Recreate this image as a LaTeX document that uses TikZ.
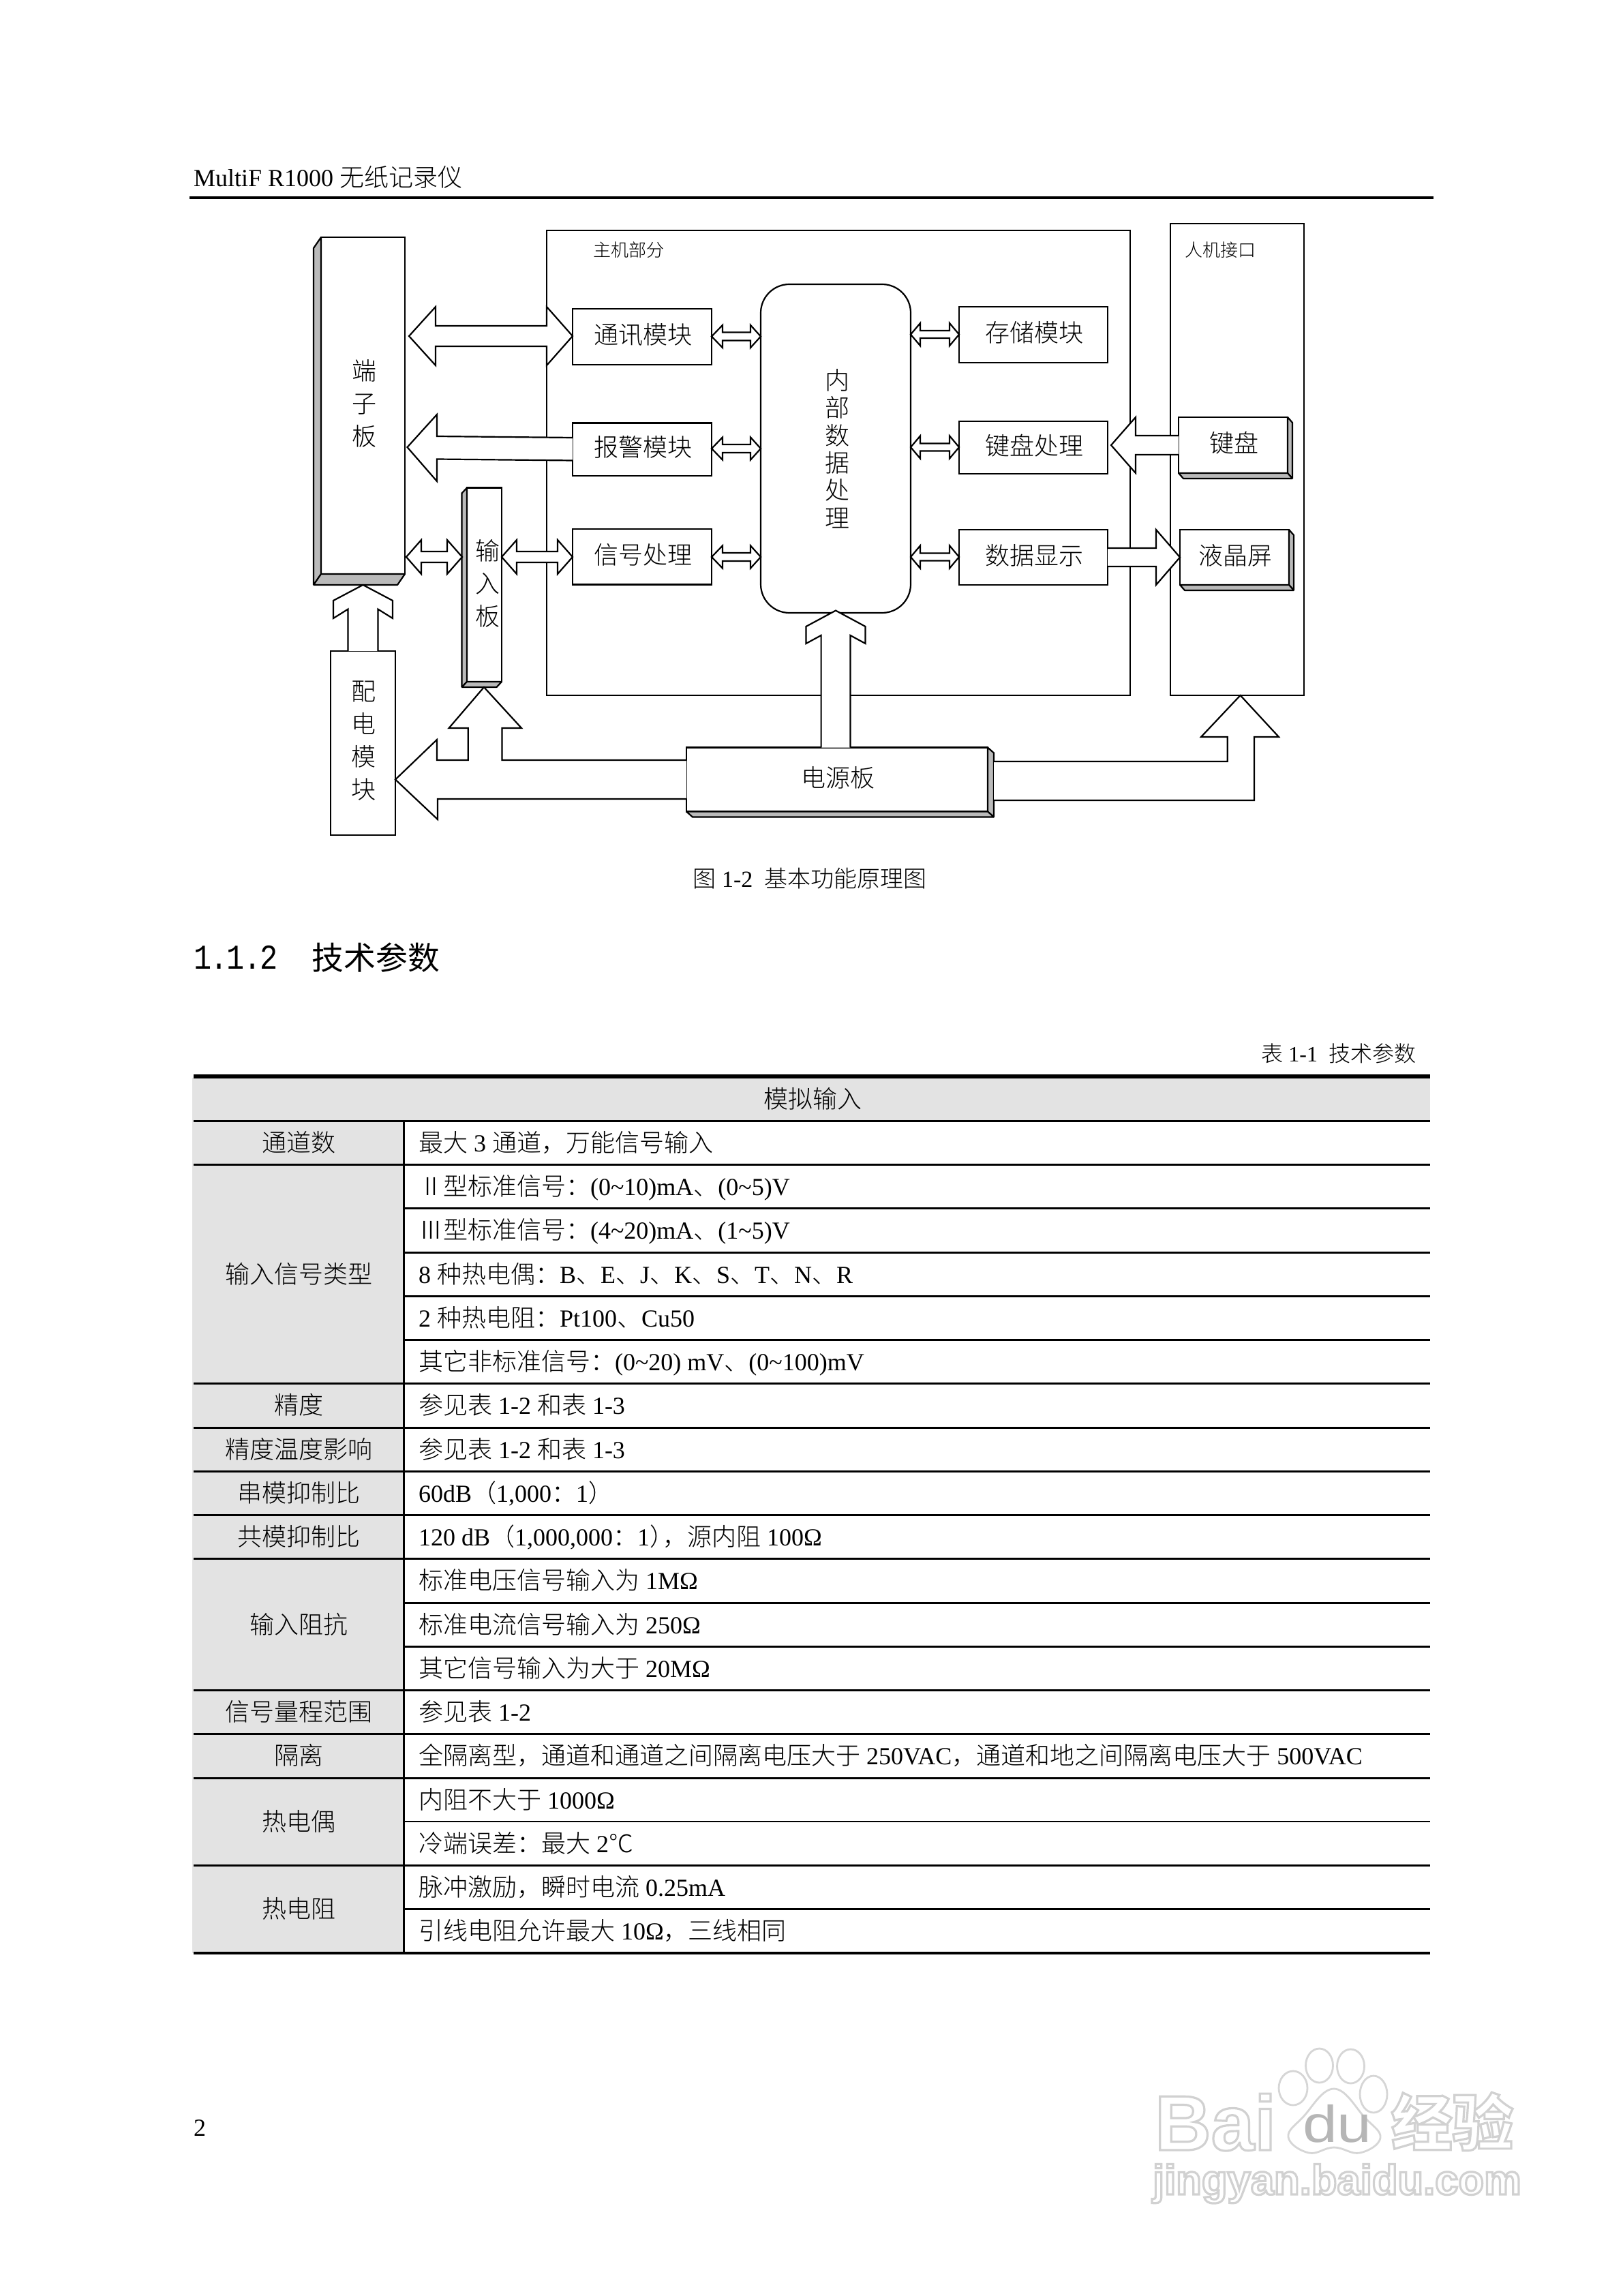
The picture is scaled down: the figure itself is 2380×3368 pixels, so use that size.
\documentclass[tikz,border=0pt]{standalone}
\usepackage{fontspec}
\usetikzlibrary{calc}
\setmainfont{Liberation Serif}
\newfontfamily\cjk{Noto Sans CJK SC Light}
\newfontfamily\cjkh{Noto Sans CJK SC}
\newfontfamily\sanslat{Liberation Sans}
\newfontfamily\wmdufont[FakeStretch=1.2]{Liberation Sans}
\newfontfamily\hdmono[FakeStretch=0.85,LetterSpace=-4]{Liberation Mono}
\newcommand{\C}[1]{{\cjk #1}}
\def\pxu{0.25pt}
\definecolor{cellgray}{HTML}{E3E3E3}
\definecolor{wmgray}{HTML}{D6D6D6}
\tikzset{
  ln/.style={line width=0.55pt,line join=miter},
  mod/.style={draw=black,fill=white,line width=0.55pt,inner sep=0pt,outer sep=0pt,align=center,font=\cjk\fontsize{9}{12}\selectfont},
  modtext/.style={inner sep=0pt,outer sep=0pt,align=center,font=\cjk\fontsize{9}{12}\selectfont},
  blockarrow/.style={draw=black,fill=white,line width=0.55pt,line join=miter},
  bevel/.style={draw=black,fill=black!27,line width=0.55pt,line join=bevel},
  cell/.style={inner sep=0pt,outer sep=0pt,font=\fontsize{9}{12}\selectfont},
  smalllab/.style={inner sep=0pt,font=\cjk\fontsize{6.5}{8}\selectfont},
  capt/.style={inner sep=0pt,font=\fontsize{8.5}{10}\selectfont},
  trule/.style={line width=0.75pt,draw=black},
  thinrule/.style={line width=0.5pt,draw=black},
  wmshape/.style={draw=wmgray,line width=0.7pt,fill=white},
  wmtext/.style={inner sep=0pt,outer sep=0pt}
}
% box by its corners, with its label as a node of its own
\newcommand{\modbox}[7]{\node[#1,minimum width={(#5-#3)*0.25pt},minimum height={(#6-#4)*0.25pt}] (#2) at ({(#3+#5)/2},{(#4+#6)/2}) {};
 \node[modtext] (#2lab) at ($(#2.center)+(1.5,-3)$) {#7};}
% bevels
\newcommand{\bevelRB}[3]{%
 \draw[bevel] (#1.north east) -- ++(#2,#3) -- ($(#1.south east)+(#2,#3)$) -- (#1.south east) -- cycle;
 \draw[bevel] (#1.south west) -- ++(#2,#3) -- ($(#1.south east)+(#2,#3)$) -- (#1.south east) -- cycle;}
\newcommand{\bevelLB}[3]{%
 \draw[bevel] (#1.north west) -- ++(-#2,#3) -- ($(#1.south west)+(-#2,#3)$) -- (#1.south west) -- cycle;
 \draw[bevel] (#1.south west) -- ++(-#2,#3) -- ($(#1.south east)+(-#2,#3)$) -- (#1.south east) -- cycle;}
% double headed block arrow: left end, right end, yc, left head, right head, head half, shaft half
\newcommand{\hdbl}[7]{%
 \draw[blockarrow] let \p1=#1,\p2=#2 in
  (\x1,{-(#3)*\pxu}) -- ({\x1+(#4)*\pxu},{-(#3-#6)*\pxu}) -- ({\x1+(#4)*\pxu},{-(#3-#7)*\pxu})
  -- ({\x2-(#5)*\pxu},{-(#3-#7)*\pxu}) -- ({\x2-(#5)*\pxu},{-(#3-#6)*\pxu}) -- (\x2,{-(#3)*\pxu})
  -- ({\x2-(#5)*\pxu},{-(#3+#6)*\pxu}) -- ({\x2-(#5)*\pxu},{-(#3+#7)*\pxu})
  -- ({\x1+(#4)*\pxu},{-(#3+#7)*\pxu}) -- ({\x1+(#4)*\pxu},{-(#3+#6)*\pxu}) -- cycle;}
% single headed: from, to, yc, signed head length, head half, shaft half
\newcommand{\harr}[6]{%
 \draw[blockarrow] let \p1=#1,\p2=#2 in
  (\x1,{-(#3-#6)*\pxu}) -- ({\x2-(#4)*\pxu},{-(#3-#6)*\pxu}) -- ({\x2-(#4)*\pxu},{-(#3-#5)*\pxu})
  -- (\x2,{-(#3)*\pxu}) -- ({\x2-(#4)*\pxu},{-(#3+#5)*\pxu}) -- ({\x2-(#4)*\pxu},{-(#3+#6)*\pxu}) -- (\x1,{-(#3+#6)*\pxu});}
% upward arrow with barbed head: tip, base, shoulder drop, barb drop, notch drop, head half, shaft half
\newcommand{\uarr}[7]{%
 \draw[blockarrow] let \p1=#1,\p2=#2 in
  ({\x1-(#7)*\pxu},\y2) -- ({\x1-(#7)*\pxu},{\y1-(#5)*\pxu}) -- ({\x1-(#6)*\pxu},{\y1-(#4)*\pxu})
  -- ({\x1-(#6)*\pxu},{\y1-(#3)*\pxu}) -- (\x1,\y1) -- ({\x1+(#6)*\pxu},{\y1-(#3)*\pxu})
  -- ({\x1+(#6)*\pxu},{\y1-(#4)*\pxu}) -- ({\x1+(#7)*\pxu},{\y1-(#5)*\pxu}) -- ({\x1+(#7)*\pxu},\y2);}
% table cells
\newcommand{\trow}[2]{\node[cell,anchor=base west] (r#1) at (614,{1625+(#1-1)*64.25}) {#2};}
\newcommand{\tlab}[3]{\node[cell,anchor=base] (#1) at (438.5,{1625+(#2-1)*64.25}) {\C{#3}};}
\begin{document}
\begin{tikzpicture}[x=0.25pt,y=-0.25pt]
\useasboundingbox (0,0) rectangle (2380,3368);
\fill[white] (0,0) rectangle (2380,3368);
% page header
\node[cell,anchor=base west] (hdr) at (284,274) {MultiF R1000 \C{无纸记录仪}};
\draw[line width=0.8pt] (278,290) -- (2103,290);
% outer frames
\node[mod,minimum width={(1658-802)*0.25pt},minimum height={(1020-338)*0.25pt}] (main) at ({(802+1658)/2},{(338+1020)/2}) {};
\node[mod,minimum width={(1913-1717)*0.25pt},minimum height={(1020-328)*0.25pt}] (hmi) at ({(1717+1913)/2},{(328+1020)/2}) {};
\node[smalllab] (mainlab) at (922,367) {主机部分};
\node[smalllab] (hmilab) at (1790,367) {人机接口};
% modules
\modbox{mod}{board}{471}{348}{594}{842}{端\\子\\板}
\node[mod,minimum width={(736-685)*0.25pt},minimum height={(1000-715.5)*0.25pt}] (inboard) at (710.5,857.75) {};
\node[modtext] (inboardlab) at (715,856) {输\\入\\板};
\modbox{mod}{comm}{840}{453}{1044}{535}{通讯模块}
\modbox{mod}{alarm}{840}{620.5}{1044}{698}{报警模块}
\modbox{mod}{sig}{840}{776}{1044}{857.5}{信号处理}
\node[mod,rounded corners=10.5pt,minimum width={(1336-1116)*0.25pt},minimum height={(899-417)*0.25pt}] (cpu) at (1226,658) {};
\node[modtext,font=\cjk\fontsize{9}{10.1}\selectfont] (cpulab) at (1228,658) {内\\部\\数\\据\\处\\理};
\modbox{mod}{store}{1407}{450}{1625}{532}{存储模块}
\modbox{mod}{kproc}{1407}{618}{1625}{695}{键盘处理}
\modbox{mod}{disp}{1407}{777}{1625}{858}{数据显示}
\modbox{mod}{key}{1729}{612}{1889}{694}{键盘}
\modbox{mod}{lcd}{1731}{777}{1891}{858}{液晶屏}
\modbox{mod}{dist}{484.6}{955}{580}{1225}{配\\电\\模\\块}
\modbox{mod}{psu}{1007}{1096.5}{1449}{1190.5}{电源板}
\coordinate (psuR) at (1458,1145);
% bevels
\bevelLB{board}{11}{16}
\bevelLB{inboard}{7.5}{8}
\bevelRB{psu}{9}{8}
\bevelRB{key}{7}{8}
\bevelRB{lcd}{7}{8}
% block arrows
\hdbl{($(board.east)+(6,0)$)}{(comm.west)}{493}{39}{38}{43}{15}
\draw[blockarrow] let \p1=(alarm.west),\p2=($(board.east)+(3.5,0)$) in
  (\x1,{-642*\pxu}) -- ({\x2+43.5*\pxu},{-640*\pxu}) -- ({\x2+43.5*\pxu},{-608*\pxu}) -- (\x2,{-656*\pxu})
  -- ({\x2+43.5*\pxu},{-706*\pxu}) -- ({\x2+43.5*\pxu},{-673.5*\pxu}) -- (\x1,{-675.5*\pxu});
\hdbl{($(board.east)+(2,0)$)}{($(inboard.west)+(-7,0)$)}{817}{22}{22}{25}{8}
\hdbl{(inboard.east)}{(sig.west)}{817}{22}{22}{25}{8}
\hdbl{(comm.east)}{(cpu.west)}{493.5}{16}{15}{16.6}{6}
\hdbl{(alarm.east)}{(cpu.west)}{658}{16}{15}{16.6}{6}
\hdbl{(sig.east)}{(cpu.west)}{817}{16}{15}{16.6}{6}
\hdbl{(cpu.east)}{(store.west)}{490.6}{14}{14}{16.6}{5.5}
\hdbl{(cpu.east)}{(kproc.west)}{656}{14}{14}{16.6}{5.5}
\hdbl{(cpu.east)}{(disp.west)}{817}{14}{14}{16.6}{5.5}
\harr{(key.west)}{($(kproc.east)+(5,0)$)}{653}{-36}{41}{14}
\harr{(disp.east)}{(lcd.west)}{817.5}{35}{40.5}{13.5}
\uarr{($(board.south)+(0,16)$)}{(dist.north)}{23}{49}{35.6}{43.5}{22}
\uarr{($(cpu.south)+(0,-3.4)$)}{(psu.north)}{23.4}{48.4}{36.4}{43.5}{21.4}
\draw[blockarrow] (psu.west |- 0,1115) -- (736.5,1115) -- (736.5,1068) -- (765,1068) -- ($(inboard.south)+(-0.5,8)$)
  -- (658.6,1068) -- (686.7,1068) -- (686.7,1115) -- (641,1115) -- (641,1085) -- (dist.east |- 0,1143.5)
  -- (642,1202) -- (642,1172) -- (psu.west |- 0,1172);
\draw[blockarrow] (psuR |- 0,1117) -- (1800.7,1117) -- (1800.7,1081) -- (1762,1081) -- (hmi.south -| 1819.6,0)
  -- (1876,1081) -- (1840,1081) -- (1840,1174) -- (psuR |- 0,1174);
% caption and heading
\node[capt,anchor=base] (figcap) at (1188,1301) {\C{图} 1-2\ \ \C{基本功能原理图}};
\node[inner sep=0pt,anchor=base west,font=\hdmono\fontsize{12.8}{14}\selectfont] (secnum) at (284,1421) {1.1.2};
\node[inner sep=0pt,anchor=base west,font=\cjkh\fontsize{11.7}{14}\selectfont] (sectitle) at (457,1422) {技术参数};
\node[cell,anchor=base east,font=\fontsize{8}{10}\selectfont] (tabcap) at (2077,1557) {\C{表} 1-1\ \ \C{技术参数}};
% table shading
\fill[cellgray] (282,1581) rectangle (2098,1644);
\fill[cellgray] (282,1644) rectangle (592,2865);
% table rules
\draw[line width=1.4pt] (284,1579) -- (2098,1579);
\foreach \yy in {1644.25,1708.5,2029.75,2094,2158.25,2222.5,2286.75,2479.5,2543.75,2608,2736.5}
  \draw[trule] (284,\yy) -- (2098,\yy);
\foreach \yy in {1772.75,1837,1901.25,1965.5,2351,2415.25,2800.75}
  \draw[trule] (592,\yy) -- (2098,\yy);
\draw[thinrule] (592,2672.25) -- (2098,2672.25);
\draw[line width=1.2pt] (284,2865) -- (2098,2865);
\draw[trule] (592,1644) -- (592,2865);
% table text
\node[cell,anchor=base] (thead) at (1192,1625) {\C{模拟输入}};
\tlab{l2}{2}{通道数}
\tlab{l5}{5}{输入信号类型}
\tlab{l8}{8}{精度}
\tlab{l9}{9}{精度温度影响}
\tlab{l10}{10}{串模抑制比}
\tlab{l11}{11}{共模抑制比}
\tlab{l13}{13}{输入阻抗}
\tlab{l15}{15}{信号量程范围}
\tlab{l16}{16}{隔离}
\tlab{l17}{17.5}{热电偶}
\tlab{l19}{19.5}{热电阻}
\trow{2}{\C{最大} 3 \C{通道，万能信号输入}}
\trow{3}{\C{Ⅱ型标准信号：}(0\textasciitilde 10)mA\C{、}(0\textasciitilde 5)V}
\trow{4}{\C{Ⅲ型标准信号：}(4\textasciitilde 20)mA\C{、}(1\textasciitilde 5)V}
\trow{5}{8 \C{种热电偶：}B\C{、}E\C{、}J\C{、}K\C{、}S\C{、}T\C{、}N\C{、}R}
\trow{6}{2 \C{种热电阻：}Pt100\C{、}Cu50}
\trow{7}{\C{其它非标准信号：}(0\textasciitilde 20) mV\C{、}(0\textasciitilde 100)mV}
\trow{8}{\C{参见表} 1-2 \C{和表} 1-3}
\trow{9}{\C{参见表} 1-2 \C{和表} 1-3}
\trow{10}{60dB\C{（}1,000\C{：}1\C{）}}
\trow{11}{120 dB\C{（}1,000,000\C{：}1\C{）\kern-4.2pt，源内阻} 100Ω}
\trow{12}{\C{标准电压信号输入为} 1MΩ}
\trow{13}{\C{标准电流信号输入为} 250Ω}
\trow{14}{\C{其它信号输入为大于} 20MΩ}
\trow{15}{\C{参见表} 1-2}
\trow{16}{\C{全隔离型，通道和通道之间隔离电压大于} 250VAC\C{，通道和地之间隔离电压大于} 500VAC}
\trow{17}{\C{内阻不大于} 1000Ω}
\trow{18}{\C{冷端误差：最大} 2\C{℃}}
\trow{19}{\C{脉冲激励，瞬时电流} 0.25mA}
\trow{20}{\C{引线电阻允许最大} 10Ω\C{，三线相同}}
% page number
\node[cell,anchor=base west] (pageno) at (284,3133) {2};
% watermark
\draw[wmshape] (1897,3063) ellipse [x radius=21,y radius=25];
\draw[wmshape] (1935.5,3030) ellipse [x radius=20,y radius=25];
\draw[wmshape] (1981.5,3031) ellipse [x radius=20,y radius=25];
\draw[wmshape] (2015,3072) ellipse [x radius=20,y radius=27];
\draw[wmshape] plot[smooth cycle,tension=0.7] coordinates {(1957,3064) (2002,3106) (2025,3136) (1995,3158) (1957,3150) (1920,3158) (1890,3135) (1912,3105)};
\node[wmtext,anchor=base west,text=wmgray!85!black,font=\wmdufont\fontsize{19}{22}\selectfont] (wmdu) at (1911,3142) {du};
\node[wmtext,anchor=base west,font=\sanslat\bfseries\fontsize{28.6}{32}\selectfont] (wmbai) at (1694,3154) {\special{pdf:code 1 Tr 0.82 G 0.8 w}Bai\special{pdf:code 0 Tr 0 G}};
\node[wmtext,anchor=base west,font=\cjkh\bfseries\fontsize{22.4}{26}\selectfont] (wmjy) at (2041,3147) {\special{pdf:code 1 Tr 0.82 G 0.8 w}经验\special{pdf:code 0 Tr 0 G}};
\node[wmtext,anchor=base west,font=\sanslat\bfseries\fontsize{15.4}{18}\selectfont] (wmurl) at (1691,3219) {\special{pdf:code 1 Tr 0.82 G 0.8 w}jingyan.baidu.com\special{pdf:code 0 Tr 0 G}};
\end{tikzpicture}
\end{document}
